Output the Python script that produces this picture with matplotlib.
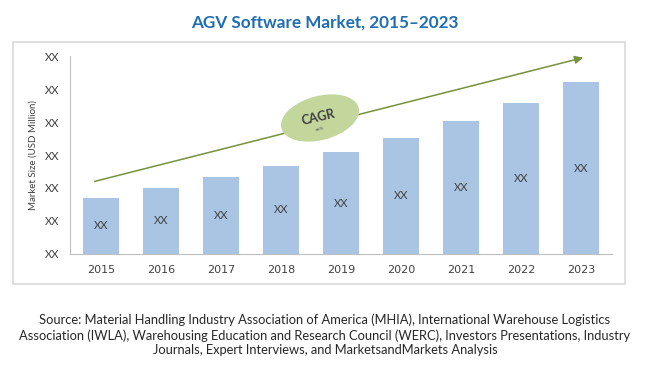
import matplotlib
matplotlib.use("Agg")
import matplotlib.pyplot as plt
from matplotlib.patches import Ellipse, Rectangle

years = ["2015", "2016", "2017", "2018", "2019", "2020", "2021", "2022", "2023"]
values = [1.70, 2.00, 2.33, 2.67, 3.09, 3.52, 4.03, 4.58, 5.21]
bar_labels = ["XX"] * len(years)
y_ticks = [0, 1, 2, 3, 4, 5, 6]
y_tick_labels = ["XX"] * len(y_ticks)
trend_start = (-0.15, 2.18)
trend_end = (8.08, 5.97)

narrow = ["Lato", "DejaVu Sans"]

fig = plt.figure(figsize=(6.5, 3.68), dpi=100)
ax = fig.add_axes([0.1077, 0.3098, 0.8338, 0.538])

# outer frame
fig.patches.append(Rectangle((13 / 650, 1 - 284 / 368), 612 / 650, 242 / 368,
                             transform=fig.transFigure, fill=False,
                             edgecolor="#d9d9d9", linewidth=1.2))

x = list(range(len(years)))
ax.bar(x, values, width=0.6, color="#a9c5e3", zorder=2)
for xi, v, lab in zip(x, values, bar_labels):
    ax.text(xi, v / 2, lab, ha="center", va="center", fontsize=8,
            color="#404040", family=narrow)

ax.set_xlim(-0.517, 8.517)
ax.set_ylim(0, 6)
ax.set_xticks(x)
ax.set_xticklabels(years, fontsize=8, color="#404040")
ax.set_yticks(y_ticks)
ax.set_yticklabels(y_tick_labels, fontsize=8, color="#404040", family=narrow)
ax.tick_params(length=0, pad=8)
ax.tick_params(axis="y", pad=8)
for s in ["top", "right"]:
    ax.spines[s].set_visible(False)
for s in ["left", "bottom"]:
    ax.spines[s].set_color("#bfbfbf")
ax.set_ylabel("Market Size (USD Million)", fontsize=7, color="#404040",
              family=narrow, labelpad=5)

# CAGR trend arrow
ax.annotate("", xy=trend_end, xytext=trend_start,
            arrowprops=dict(arrowstyle="-|>", color="#76923c", lw=1.1,
                            mutation_scale=12), zorder=3)

# CAGR ellipse
ell = Ellipse((3.2, 2.50), 0.80, 0.44, angle=15, transform=fig.dpi_scale_trans,
              facecolor="#c3d69b", edgecolor="none", zorder=4)
fig.patches.append(ell)
fig.text(318 / 650, 1 - 117 / 368, "CAGR", ha="center", va="center",
         rotation=13, fontsize=9, fontweight="bold", color="#404040",
         family=narrow, zorder=5)
fig.text(320 / 650, 1 - 129 / 368, "xx%", ha="center", va="center",
         rotation=13, fontsize=3, color="#404040", zorder=5)

fig.text(0.5, 1 - 23 / 368, "AGV Software Market, 2015\u20132023", ha="center",
         va="center", fontsize=12.3, fontweight="bold", color="#1f6db5",
         family=["Lato", "DejaVu Sans"])

source = ("Source: Material Handling Industry Association of America (MHIA), International Warehouse Logistics\n"
          "Association (IWLA), Warehousing Education and Research Council (WERC), Investors Presentations, Industry\n"
          "Journals, Expert Interviews, and MarketsandMarkets Analysis")
fig.text(0.5, 1 - 335 / 368, source, ha="center", va="center", fontsize=9.3,
         color="#262626", family=narrow, linespacing=1.25)

fig.savefig("out.png", dpi=100)
